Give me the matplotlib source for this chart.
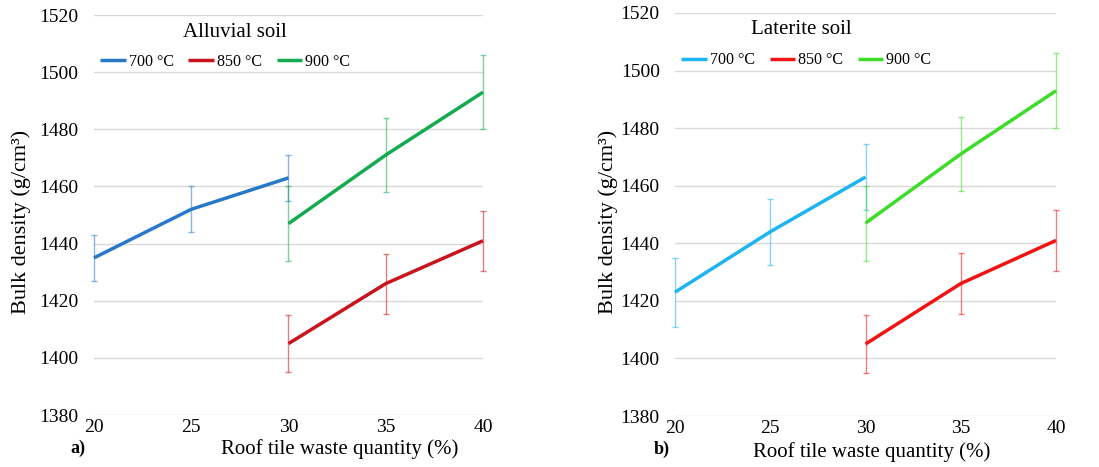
import numpy as np
import matplotlib.pyplot as plt

plt.rcParams['font.family'] = ['Liberation Serif', 'DejaVu Serif']

waste = [20, 25, 30, 35, 40]
x_700 = [20, 25, 30]
x_850 = [30, 35, 40]
x_900 = [30, 35, 40]

# alluvial soil (panel a)
al_700 = [1435, 1452, 1463]
al_700_err = [8, 8, 8]
al_850 = [1405, 1426, 1441]
al_850_err = [10, 10.5, 10.5]
al_900 = [1447, 1471, 1493]
al_900_err = [13, 13, 13]

# laterite soil (panel b)
la_700 = [1423, 1444, 1463]
la_700_err = [12, 11.5, 11.5]
la_850 = [1405, 1426, 1441]
la_850_err = [10, 10.5, 10.5]
la_900 = [1447, 1471, 1493]
la_900_err = [13, 13, 13]

temps = ['700 °C', '850 °C', '900 °C']
yticks = [1380, 1400, 1420, 1440, 1460, 1480, 1500, 1520]

fig = plt.figure(figsize=(10.99, 4.67), dpi=100)
ax_a = fig.add_axes([0.0855, 0.1113, 0.354, 0.8565])
ax_b = fig.add_axes([0.6142, 0.1092, 0.3467, 0.863])


def draw_panel(ax, series, colors, title, tx, ty, ly):
    ax.set_xlim(20, 40)
    ax.set_ylim(1380, 1520)
    ax.set_yticks(yticks)
    ax.set_xticks(waste)
    ax.grid(axis='y', color='#d9d9d9', linewidth=1.0)
    ax.set_axisbelow(True)
    for sp in ax.spines.values():
        sp.set_visible(False)
    ax.tick_params(axis='both', length=0, labelsize=14)
    ax.tick_params(axis='y', pad=11)
    ax.tick_params(axis='x', pad=3)
    for (xs, ys, es), c, lab in zip(series, colors, temps):
        eb = ax.errorbar(xs, ys, yerr=es, fmt='none', ecolor=c, elinewidth=1.0,
                         capsize=2.5, capthick=1.0, alpha=0.55, zorder=2)
        for part in eb.get_children():
            part.set_clip_on(False)
        ax.plot(xs, ys, color=c, linewidth=2.5, label=lab, zorder=3,
                solid_capstyle='butt', clip_on=False)
    ax.text(tx, ty, title, transform=ax.transAxes, ha='center', va='center',
            fontsize=15)
    ax.legend(loc='center left', bbox_to_anchor=(0.0, ly), ncol=3,
              frameon=False, fontsize=11.5, handlelength=1.6, handletextpad=0.2,
              columnspacing=0.9, borderaxespad=0)


draw_panel(ax_a,
           [(x_700, al_700, al_700_err), (x_850, al_850, al_850_err),
            (x_900, al_900, al_900_err)],
           ['#2878c8', '#c8141e', '#14aa50'],
           'Alluvial soil', 0.362, 0.957, 0.8825)
draw_panel(ax_b,
           [(x_700, la_700, la_700_err), (x_850, la_850, la_850_err),
            (x_900, la_900, la_900_err)],
           ['#1eb4f0', '#f01414', '#3cdc28'],
           'Laterite soil', 0.331, 0.96, 0.883)

fig.text(21 / 1099, 1 - 222 / 467, 'Bulk density (g/cm³)', rotation=90,
         ha='center', va='center', fontsize=16)
fig.text(608 / 1099, 1 - 222 / 467, 'Bulk density (g/cm³)', rotation=90,
         ha='center', va='center', fontsize=16)
fig.text(340 / 1099, 1 - 449 / 467, 'Roof tile waste quantity (%)',
         ha='center', va='center', fontsize=15)
fig.text(872 / 1099, 1 - 452 / 467, 'Roof tile waste quantity (%)',
         ha='center', va='center', fontsize=15)
fig.text(78 / 1099, 1 - 448 / 467, 'a)', ha='center', va='center',
         fontsize=13, fontweight='bold')
fig.text(662 / 1099, 1 - 449 / 467, 'b)', ha='center', va='center',
         fontsize=13, fontweight='bold')

fig.savefig('out.png', dpi=100)
